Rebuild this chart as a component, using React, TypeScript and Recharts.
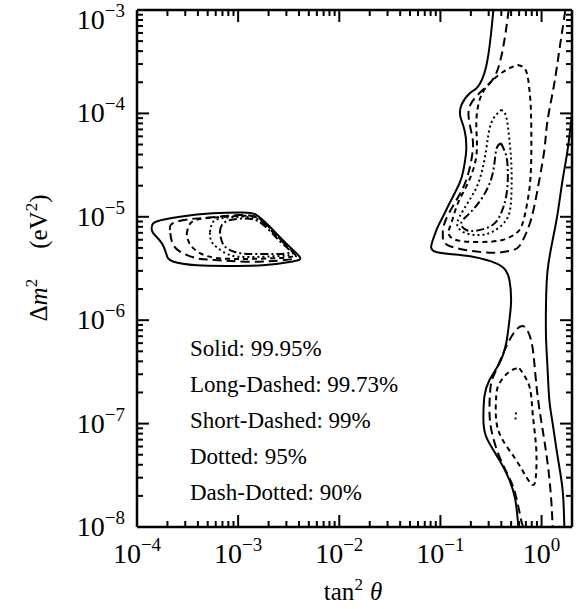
import React from "react";
import { LineChart, Line, XAxis, YAxis } from "recharts";

// contour points: [tan^2 theta, delta m^2 (eV^2)]
const solidIsland = [
  [1.4e-4, 8.0e-6], [1.56e-4, 9.0e-6], [2.66e-4, 1.0e-5], [5.6e-4, 1.08e-5], [1.11e-3, 1.1e-5],
  [1.52e-3, 1.04e-5], [2.06e-3, 8.0e-6], [3.0e-3, 5.5e-6], [4.06e-3, 4.1e-6], [3.47e-3, 3.7e-6],
  [1.75e-3, 3.4e-6], [8.3e-4, 3.35e-6], [3.9e-4, 3.4e-6], [2.27e-4, 3.7e-6], [1.96e-4, 4.3e-6],
  [1.75e-4, 5.6e-6], [1.44e-4, 7.0e-6], [1.4e-4, 8.0e-6],
];
const longDashIsland = [
  [2.12e-4, 7.45e-6], [2.27e-4, 8.7e-6], [3.33e-4, 9.5e-6], [4.87e-4, 9.8e-6], [1.04e-3, 1.04e-5],
  [1.56e-3, 9.7e-6], [2.06e-3, 7.6e-6], [2.89e-3, 5.45e-6], [3.72e-3, 4.18e-6], [2.89e-3, 3.82e-6],
  [1.31e-3, 3.68e-6], [5.9e-4, 3.82e-6], [3.9e-4, 3.97e-6], [2.66e-4, 4.6e-6], [2.22e-4, 5.7e-6],
  [2.12e-4, 7.45e-6],
];
const shortDashIsland = [
  [3.1e-4, 6.9e-6], [3.33e-4, 8.5e-6], [4.19e-4, 9.5e-6], [7.4e-4, 1.0e-5], [1.31e-3, 1.02e-5],
  [1.71e-3, 9.3e-6], [2.25e-3, 7.13e-6], [3.03e-3, 5.22e-6], [3.63e-3, 4.27e-6], [2.58e-3, 4.0e-6],
  [1.16e-3, 3.91e-6], [6.1e-4, 4.0e-6], [4.19e-4, 4.46e-6], [3.33e-4, 5.45e-6], [3.1e-4, 6.9e-6],
];
const dottedIsland = [
  [5.26e-4, 7.13e-6], [5.5e-4, 8.5e-6], [6.3e-4, 9.5e-6], [9.27e-4, 9.95e-6], [1.46e-3, 9.7e-6],
  [1.96e-3, 8.15e-6], [2.58e-3, 6.24e-6], [3.47e-3, 4.57e-6], [2.58e-3, 4.18e-6], [1.31e-3, 4.08e-6],
  [8.3e-4, 4.27e-6], [6.1e-4, 5.1e-6], [5.37e-4, 5.97e-6], [5.26e-4, 7.13e-6],
];
const dashDotIsland = [
  [6.6e-4, 7.13e-6], [6.9e-4, 8.33e-6], [8.3e-4, 9.3e-6], [1.16e-3, 9.63e-6], [1.56e-3, 9.1e-6],
  [2.06e-3, 7.3e-6], [2.7e-3, 5.58e-6], [3.24e-3, 4.57e-6], [2.3e-3, 4.37e-6], [1.31e-3, 4.37e-6],
  [9.27e-4, 4.57e-6], [7.2e-4, 5.33e-6], [6.6e-4, 7.13e-6],
];

const solidLeft = [
  [0.334, 1e-3], [0.317, 5.96e-4], [0.283, 2.83e-4], [0.234, 1.81e-4], [0.194, 1.56e-4],
  [0.161, 1.2e-4], [0.158, 9.2e-5], [0.173, 6.9e-5], [0.18, 4.43e-5], [0.169, 2.84e-5],
  [0.1545, 2.11e-5], [0.123, 1.35e-5], [0.1057, 1.0e-5], [0.0942, 8.0e-6], [0.0841, 5.97e-6],
  [0.0811, 5.0e-6], [0.0908, 4.57e-6], [0.123, 4.37e-6], [0.209, 4.11e-6], [0.356, 3.55e-6],
  [0.44, 3.05e-6], [0.481, 2.45e-6], [0.5, 1.57e-6], [0.481, 1.0e-6], [0.447, 5.98e-7],
  [0.383, 3.83e-7], [0.3055, 2.64e-7], [0.272, 1.82e-7], [0.266, 1.17e-7], [0.283, 7.47e-8],
  [0.383, 4.45e-8], [0.481, 2.85e-8], [0.551, 1.82e-8], [0.59, 1e-8],
];
const solidRight = [
  [2, 1.0e-4], [1.81, 4.43e-5], [1.615, 2.27e-5], [1.442, 1.08e-5], [1.288, 5.97e-6],
  [1.148, 3.05e-6], [1.107, 1.46e-6], [1.107, 6.92e-7], [1.148, 3.3e-7], [1.194, 1.69e-7],
  [1.288, 1.0e-7], [1.442, 4.79e-8], [1.615, 2.28e-8], [1.68, 1e-8],
];
const longDashUpper = [
  [0.473, 1e-3], [0.4295, 5.13e-4], [0.356, 2.44e-4], [0.262, 1.68e-4], [0.201, 1.25e-4],
  [0.19, 9.3e-5], [0.203, 6.46e-5], [0.209, 4.43e-5], [0.18, 2.27e-5], [0.1377, 1.35e-5],
  [0.1096, 8.65e-6], [0.1057, 6.42e-6], [0.1175, 5.33e-6], [0.1936, 4.7e-6], [0.356, 4.5e-6],
  [0.519, 4.77e-6], [0.604, 5.22e-6], [0.703, 6.92e-6], [0.817, 1.08e-5], [0.951, 2.27e-5],
  [1.066, 4.43e-5], [1.115, 6.9e-5], [1.194, 1.08e-4], [1.337, 1.95e-4], [1.5, 4.1e-4],
  [1.68, 8.6e-4], [1.72, 1e-3],
];
const shortDashUpper = [
  [0.581, 2.94e-4], [0.703, 2.57e-4], [0.759, 1.68e-4], [0.787, 9.7e-5], [0.787, 3.05e-5],
  [0.73, 1.45e-5], [0.65, 8.65e-6], [0.56, 6.92e-6], [0.41, 5.97e-6], [0.2432, 5.7e-6],
  [0.1432, 5.97e-6], [0.12, 6.97e-6], [0.128, 8.65e-6], [0.1486, 1.35e-5], [0.1866, 2.11e-5],
  [0.226, 3.81e-5], [0.227, 6.9e-5], [0.232, 1.08e-4], [0.26, 1.57e-4], [0.329, 2.1e-4],
  [0.447, 2.63e-4], [0.581, 2.94e-4],
];
const dottedUpper = [
  [0.398, 1.08e-4], [0.447, 9.3e-5], [0.481, 5.53e-5], [0.504, 3.05e-5], [0.5, 1.45e-5],
  [0.447, 9.3e-6], [0.329, 7.18e-6], [0.2432, 6.67e-6], [0.18, 6.92e-6], [0.1486, 8.0e-6],
  [0.1545, 1.0e-5], [0.1936, 1.45e-5], [0.2432, 2.27e-5], [0.2831, 4.43e-5], [0.317, 8.0e-5],
  [0.398, 1.08e-4],
];
const dashDotUpper = [
  [0.398, 5.14e-5], [0.44, 4.11e-5], [0.462, 3.05e-5], [0.452, 1.69e-5], [0.383, 1.0e-5],
  [0.3055, 8.0e-6], [0.226, 7.34e-6], [0.18, 7.45e-6], [0.16, 8.65e-6], [0.1936, 1.08e-5],
  [0.2624, 1.56e-5], [0.329, 2.63e-5], [0.356, 4.43e-5], [0.398, 5.14e-5],
];
const longDashLower = [
  [0.66, 1e-8], [0.628, 1.17e-8], [0.56, 1.96e-8], [0.481, 2.98e-8], [0.383, 4.79e-8],
  [0.319, 8.67e-8], [0.3055, 1.46e-7], [0.317, 2.45e-7], [0.356, 3.3e-7], [0.447, 5.55e-7],
  [0.56, 8.04e-7], [0.676, 8.65e-7], [0.787, 6.44e-7], [0.849, 3.83e-7], [0.916, 1.82e-7],
  [1.026, 8.67e-8], [1.148, 4.13e-8], [1.24, 1.96e-8], [1.288, 1e-8],
];
const shortDashLower = [
  [0.604, 3.43e-7], [0.759, 2.28e-7], [0.817, 1.26e-7], [0.883, 5.98e-8], [0.883, 3.3e-8],
  [0.83, 2.55e-8], [0.703, 3.07e-8], [0.56, 4.45e-8], [0.413, 6.93e-8], [0.356, 1.08e-7],
  [0.356, 1.82e-7], [0.383, 2.45e-7], [0.481, 3.18e-7], [0.604, 3.43e-7],
];
const dottedLower = [[0.56, 1.28e-7], [0.553, 1.17e-7], [0.558, 1.05e-7]];

const legendLines = [
  "Solid: 99.95%",
  "Long-Dashed: 99.73%",
  "Short-Dashed: 99%",
  "Dotted: 95%",
  "Dash-Dotted: 90%",
];

const xDecades = [-4, -3, -2, -1];
const yDecades = [-8, -7, -6, -5, -4];
const xTicks = [...xDecades.flatMap((d) => [1, 2, 3, 4, 5, 6, 7, 8, 9].map((m) => m * 10 ** d)), 1];
const yTicks = [...yDecades.flatMap((d) => [1, 2, 3, 4, 5, 6, 7, 8, 9].map((m) => m * 10 ** d)), 1e-3];

const SOLID = undefined;
const LONG = "9 5";
const SHORT = "5 4";
const DOT = "2 3";
const DASHDOT = "8 3 2 3";

const contours = [
  { pts: solidIsland, dash: SOLID },
  { pts: longDashIsland, dash: LONG },
  { pts: shortDashIsland, dash: SHORT },
  { pts: dottedIsland, dash: DOT },
  { pts: dashDotIsland, dash: DASHDOT },
  { pts: solidLeft, dash: SOLID },
  { pts: solidRight, dash: SOLID },
  { pts: longDashUpper, dash: LONG },
  { pts: shortDashUpper, dash: SHORT },
  { pts: dottedUpper, dash: DOT },
  { pts: dashDotUpper, dash: DASHDOT },
  { pts: longDashLower, dash: LONG },
  { pts: shortDashLower, dash: SHORT },
  { pts: dottedLower, dash: DOT },
];

const FONT = "'Liberation Serif', 'DejaVu Serif', serif";

const isMajor = (v: number) => Math.abs(Math.log10(v) - Math.round(Math.log10(v))) < 1e-6;
const expOf = (v: number) => Math.round(Math.log10(v));
const expText = (e: number) => (e < 0 ? "\u2212" + Math.abs(e) : String(e));

const BottomTick = ({ x, y, payload }: any) => {
  const major = isMajor(payload.value);
  return (
    <g>
      <line x1={x} x2={x} y1={y} y2={y - (major ? 12 : 6)} stroke="#000" strokeWidth={2} />
      {major && (
        <text x={x} y={y + 36} textAnchor="middle" fontFamily={FONT} fontSize={28} fill="#000">
          10<tspan dy={-12} fontSize={19}>{expText(expOf(payload.value))}</tspan>
        </text>
      )}
    </g>
  );
};

const TopTick = ({ x, y, payload }: any) => {
  const major = isMajor(payload.value);
  return <line x1={x} x2={x} y1={y} y2={y + (major ? 12 : 6)} stroke="#000" strokeWidth={2} />;
};

const LeftTick = ({ x, y, payload }: any) => {
  const major = isMajor(payload.value);
  // keep the topmost label inside the picture
  const ly = Math.max(y + 9, 29);
  return (
    <g>
      <line x1={x} x2={x + (major ? 12 : 6)} y1={y} y2={y} stroke="#000" strokeWidth={2} />
      {major && (
        <text x={x - 12} y={ly} textAnchor="end" fontFamily={FONT} fontSize={28} fill="#000">
          10<tspan dy={-12} fontSize={19}>{expText(expOf(payload.value))}</tspan>
        </text>
      )}
    </g>
  );
};

const RightTick = ({ x, y, payload }: any) => {
  const major = isMajor(payload.value);
  return <line x1={x} x2={x - (major ? 12 : 6)} y1={y} y2={y} stroke="#000" strokeWidth={2} />;
};

const axisLine = { stroke: "#000", strokeWidth: 2.5 };

export default function App() {
  return (
    <div style={{ position: "absolute", left: 0, top: 0, width: 583, height: 609, background: "#fff" }}>
      <LineChart width={583} height={609} margin={{ top: 9, right: 10, bottom: 0, left: 0 }}>
        <XAxis
          xAxisId="b"
          dataKey="x"
          type="number"
          scale="log"
          domain={[1e-4, 2]}
          allowDataOverflow
          ticks={xTicks}
          interval={0}
          tickSize={0}
          tickMargin={0}
          tickLine={false}
          axisLine={axisLine}
          height={82}
          tick={(p: any) => <BottomTick {...p} />}
        />
        <XAxis
          xAxisId="t"
          orientation="top"
          dataKey="x"
          type="number"
          scale="log"
          domain={[1e-4, 2]}
          allowDataOverflow
          ticks={xTicks}
          interval={0}
          tickSize={0}
          tickMargin={0}
          tickLine={false}
          axisLine={axisLine}
          height={1}
          tick={(p: any) => <TopTick {...p} />}
        />
        <YAxis
          yAxisId="l"
          type="number"
          scale="log"
          domain={[1e-8, 1e-3]}
          allowDataOverflow
          ticks={yTicks}
          interval={0}
          tickSize={0}
          tickMargin={0}
          tickLine={false}
          axisLine={axisLine}
          width={137}
          tick={(p: any) => <LeftTick {...p} />}
        />
        <YAxis
          yAxisId="r"
          orientation="right"
          type="number"
          scale="log"
          domain={[1e-8, 1e-3]}
          allowDataOverflow
          ticks={yTicks}
          interval={0}
          tickSize={0}
          tickMargin={0}
          tickLine={false}
          axisLine={axisLine}
          width={1}
          tick={(p: any) => <RightTick {...p} />}
        />
        {/* invisible series so the top and right frame axes are drawn */}
        <Line
          xAxisId="t"
          yAxisId="r"
          data={solidIsland.map(([x, y]) => ({ x, y }))}
          dataKey="y"
          stroke="none"
          strokeOpacity={0}
          dot={false}
          activeDot={false}
          isAnimationActive={false}
        />
        {contours.map((c, i) => (
          <Line
            key={i}
            xAxisId="b"
            yAxisId="l"
            data={c.pts.map(([x, y]) => ({ x, y }))}
            dataKey="y"
            type="natural"
            stroke="#000"
            strokeWidth={2}
            strokeDasharray={c.dash}
            dot={false}
            activeDot={false}
            isAnimationActive={false}
          />
        ))}
      </LineChart>
      <svg
        width={583}
        height={609}
        style={{ position: "absolute", left: 0, top: 0, pointerEvents: "none" }}
        fontFamily={FONT}
      >
        {legendLines.map((t, i) => (
          <text key={t} x={190} y={356 + i * 36} fontSize={23} fill="#000">
            {t}
          </text>
        ))}
        <text x={353} y={600} textAnchor="middle" fontSize={25} fill="#000">
          tan<tspan dy={-10} fontSize={17}>2</tspan>
          <tspan dy={10} dx={7} fontStyle="italic">θ</tspan>
        </text>
        <text transform="translate(47,258) rotate(-90)" textAnchor="middle" fontSize={25} fill="#000">
          Δ<tspan fontStyle="italic">m</tspan>
          <tspan dy={-10} fontSize={17}>2</tspan>
          <tspan dy={10} dx={30}>(eV</tspan>
          <tspan dy={-10} fontSize={17}>2</tspan>
          <tspan dy={10}>)</tspan>
        </text>
      </svg>
    </div>
  );
}
